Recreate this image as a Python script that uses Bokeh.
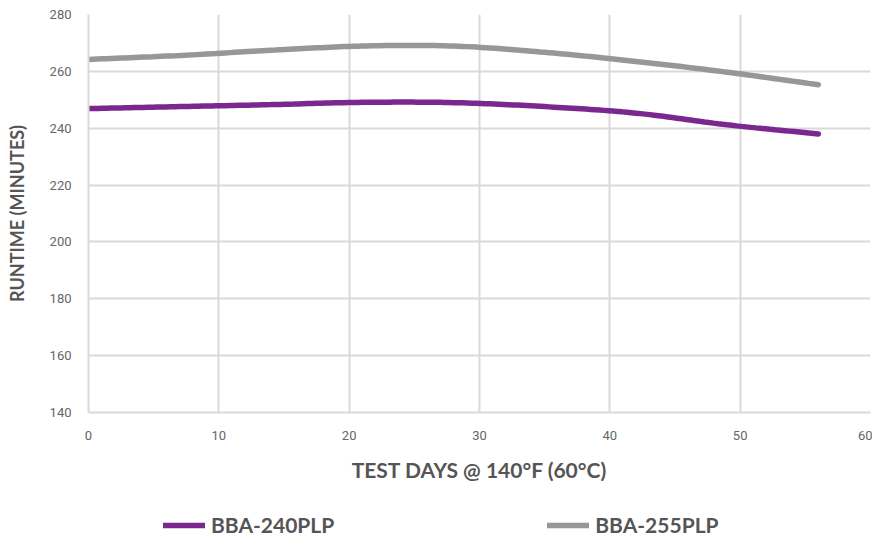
import numpy as np
from bokeh.plotting import figure
from bokeh.layouts import column
from bokeh.models import Legend, LegendItem, FixedTicker
from bokeh.embed import file_html
from bokeh.resources import INLINE

days = [0, 7, 14, 21, 28, 35, 42, 49, 56]
bba240 = [246.9, 247.6, 248.3, 249.1, 249.0, 247.6, 245.3, 241.2, 238.0]
bba255 = [264.2, 265.6, 267.4, 268.9, 268.9, 266.7, 263.5, 259.7, 255.3]
x_ticks = [0, 10, 20, 30, 40, 50, 60]
y_ticks = [140, 160, 180, 200, 220, 240, 260, 280]
series_names = ["BBA-240PLP", "BBA-255PLP"]
colors = ["#7a2890", "#97979a"]


def smooth(xs, ys, n=20):
    xs = np.asarray(xs, float)
    ys = np.asarray(ys, float)
    px = np.concatenate([[2 * xs[0] - xs[1]], xs, [2 * xs[-1] - xs[-2]]])
    py = np.concatenate([[2 * ys[0] - ys[1]], ys, [2 * ys[-1] - ys[-2]]])
    ox, oy = [], []
    for i in range(1, len(px) - 2):
        t = np.linspace(0, 1, n, endpoint=(i == len(px) - 3))
        for arr, out in ((px, ox), (py, oy)):
            p0, p1, p2, p3 = arr[i - 1], arr[i], arr[i + 1], arr[i + 2]
            out.extend(0.5 * ((2 * p1) + (-p0 + p2) * t + (2 * p0 - 5 * p1 + 4 * p2 - p3) * t ** 2
                              + (-p0 + 3 * p1 - 3 * p2 + p3) * t ** 3))
    return ox, oy


p = figure(width=872, height=490, x_range=(0, 60), y_range=(140, 280),
           output_backend="svg", toolbar_location=None,
           min_border_left=88, min_border_right=2, min_border_top=14, min_border_bottom=78)
p.outline_line_color = None
p.background_fill_color = "white"
p.border_fill_color = "white"

grid_col = "#d9d9d9"
for ax in (p.xaxis[0], p.yaxis[0]):
    ax.axis_line_color = grid_col
    ax.axis_line_width = 2
    ax.major_tick_line_color = None
    ax.minor_tick_line_color = None
    ax.major_label_text_font = "Roboto"
    ax.major_label_text_font_size = "13px"
    ax.major_label_text_color = "#666666"
    ax.axis_label_text_font = "Lato"
    ax.axis_label_text_font_style = "bold"
    ax.axis_label_text_color = "#555555"

p.xaxis.ticker = FixedTicker(ticks=x_ticks)
p.yaxis.ticker = FixedTicker(ticks=y_ticks)
p.xaxis.axis_label = "TEST DAYS @ 140°F (60°C)"
p.xaxis.axis_label_text_font_size = "21px"
p.xaxis.major_label_standoff = 12
p.xaxis.axis_label_standoff = 14
p.yaxis.axis_label = "RUNTIME (MINUTES)"
p.yaxis.axis_label_text_font_size = "18px"
p.yaxis.major_label_standoff = 11
p.yaxis.axis_label_standoff = 19

p.xgrid.ticker = FixedTicker(ticks=x_ticks)
p.ygrid.ticker = FixedTicker(ticks=y_ticks)
for g in (p.xgrid[0], p.ygrid[0]):
    g.grid_line_color = grid_col
    g.grid_line_width = 2

for ys, c in ((bba240, colors[0]), (bba255, colors[1])):
    sx, sy = smooth(days, ys)
    p.line(sx, sy, line_color=c, line_width=5.5, line_cap="round")

# legend strip below the chart
pl = figure(width=872, height=47, x_range=(0, 1), y_range=(0, 1),
            output_backend="svg", toolbar_location=None,
            x_axis_type=None, y_axis_type=None,
            min_border_left=0, min_border_right=0, min_border_top=0, min_border_bottom=0)
pl.outline_line_color = None
pl.grid.visible = False
items = []
for name, c in zip(series_names, colors):
    r = pl.line([-5, -4], [-5, -5], line_color=c, line_width=5.5, line_cap="round")
    items.append(LegendItem(label=name, renderers=[r]))
legend = Legend(items=items, orientation="horizontal", location=(75, 0),
                glyph_width=42, glyph_height=20, label_standoff=6, spacing=213,
                label_text_font="Lato", label_text_font_style="bold",
                label_text_font_size="21px", label_text_color="#555555",
                border_line_color=None, background_fill_alpha=0,
                padding=0, margin=0)
pl.add_layout(legend, "center")

layout = column(p, pl, spacing=0)
open("out.html", "w").write(file_html(layout, INLINE))
